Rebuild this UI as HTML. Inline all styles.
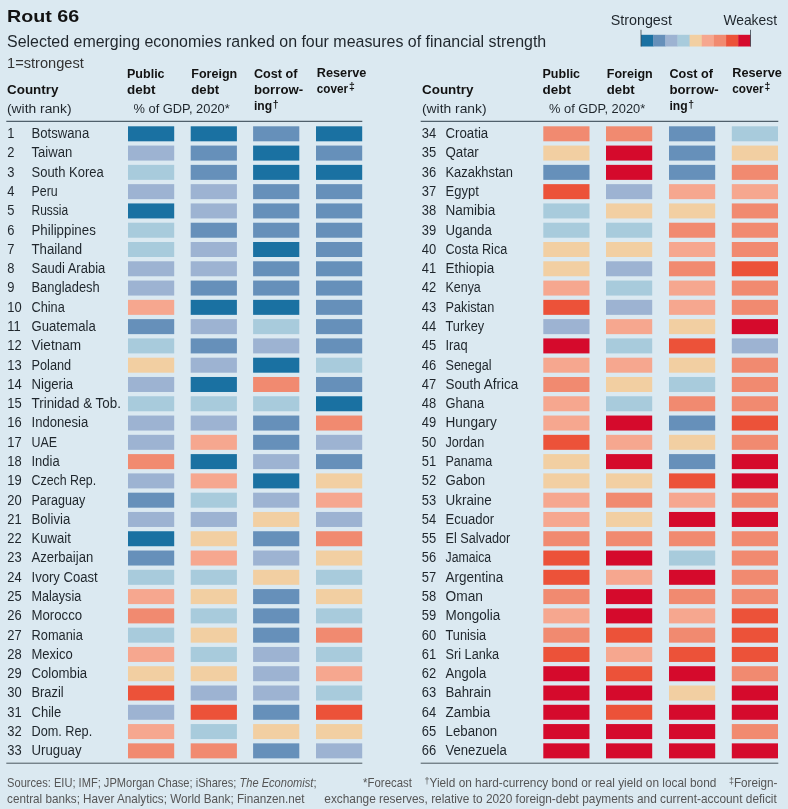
<!DOCTYPE html>
<html lang="en"><head><meta charset="utf-8"><title>Rout 66</title>
<style>
html,body{margin:0;padding:0;background:#dbe9f1;}
svg{display:block;font-family:"Liberation Sans",sans-serif;}
</style></head><body>
<svg width="788" height="809" viewBox="0 0 788 809">
<rect width="788" height="809" fill="#dbe9f1"/>
<text x="7.0" y="22.4" font-size="17" font-weight="700" fill="#121212" textLength="72.2" lengthAdjust="spacingAndGlyphs">Rout 66</text>
<text x="7.0" y="46.8" font-size="16.3" fill="#1f262c" textLength="539.2" lengthAdjust="spacingAndGlyphs">Selected emerging economies ranked on four measures of financial strength</text>
<text x="7.0" y="68.2" font-size="14.6" fill="#333" textLength="76.8" lengthAdjust="spacingAndGlyphs">1=strongest</text>
<text x="610.7" y="24.6" font-size="14.4" fill="#1f262c" textLength="61.3" lengthAdjust="spacingAndGlyphs">Strongest</text>
<text x="723.4" y="24.6" font-size="14.4" fill="#1f262c" textLength="53.6" lengthAdjust="spacingAndGlyphs">Weakest</text>
<rect x="641.00" y="34.8" width="12.46" height="11.7" fill="#1a71a2"/>
<rect x="653.16" y="34.8" width="12.46" height="11.7" fill="#6690ba"/>
<rect x="665.31" y="34.8" width="12.46" height="11.7" fill="#9db3d2"/>
<rect x="677.47" y="34.8" width="12.46" height="11.7" fill="#a8cbdc"/>
<rect x="689.62" y="34.8" width="12.46" height="11.7" fill="#f2cfa2"/>
<rect x="701.78" y="34.8" width="12.46" height="11.7" fill="#f6a78f"/>
<rect x="713.93" y="34.8" width="12.46" height="11.7" fill="#f18a70"/>
<rect x="726.09" y="34.8" width="12.46" height="11.7" fill="#ec5239"/>
<rect x="738.24" y="34.8" width="12.46" height="11.7" fill="#d50a2c"/>
<rect x="640.6" y="29.8" width="0.8" height="16.7" fill="#3a4650"/>
<rect x="750.0" y="29.8" width="0.8" height="16.7" fill="#3a4650"/>
<text x="7.0" y="94.3" font-size="13.4" font-weight="700" fill="#121212" textLength="51.5" lengthAdjust="spacingAndGlyphs">Country</text>
<text x="7.0" y="113.2" font-size="13.4" fill="#1f262c" textLength="64.6" lengthAdjust="spacingAndGlyphs">(with rank)</text>
<text x="127.0" y="77.8" font-size="13.4" font-weight="700" fill="#121212" textLength="37.6" lengthAdjust="spacingAndGlyphs">Public</text>
<text x="127.0" y="94.3" font-size="13.4" font-weight="700" fill="#121212" textLength="28.4" lengthAdjust="spacingAndGlyphs">debt</text>
<text x="191.3" y="77.8" font-size="13.4" font-weight="700" fill="#121212" textLength="45.9" lengthAdjust="spacingAndGlyphs">Foreign</text>
<text x="191.3" y="94.3" font-size="13.4" font-weight="700" fill="#121212" textLength="27.8" lengthAdjust="spacingAndGlyphs">debt</text>
<text x="254.0" y="77.8" font-size="13.4" font-weight="700" fill="#121212" textLength="43.5" lengthAdjust="spacingAndGlyphs">Cost of</text>
<text x="254.0" y="94.3" font-size="13.4" font-weight="700" fill="#121212" textLength="49.1" lengthAdjust="spacingAndGlyphs">borrow-</text>
<text x="254.0" y="110.3" font-size="13.4" font-weight="700" fill="#121212" textLength="18.2" lengthAdjust="spacingAndGlyphs">ing</text>
<text x="272.8" y="107.6" font-size="10.4" font-weight="700" fill="#121212">†</text>
<text x="316.8" y="76.8" font-size="13.4" font-weight="700" fill="#121212" textLength="49.5" lengthAdjust="spacingAndGlyphs">Reserve</text>
<text x="316.8" y="93.0" font-size="13.4" font-weight="700" fill="#121212" textLength="31.3" lengthAdjust="spacingAndGlyphs">cover</text>
<text x="349.0" y="89.8" font-size="10.4" font-weight="700" fill="#121212">‡</text>
<text x="133.5" y="113.4" font-size="13.4" fill="#1f262c" textLength="96.2" lengthAdjust="spacingAndGlyphs">% of GDP, 2020*</text>
<text x="422.0" y="94.3" font-size="13.4" font-weight="700" fill="#121212" textLength="51.5" lengthAdjust="spacingAndGlyphs">Country</text>
<text x="422.0" y="113.2" font-size="13.4" fill="#1f262c" textLength="64.6" lengthAdjust="spacingAndGlyphs">(with rank)</text>
<text x="542.5" y="77.8" font-size="13.4" font-weight="700" fill="#121212" textLength="37.6" lengthAdjust="spacingAndGlyphs">Public</text>
<text x="542.5" y="94.3" font-size="13.4" font-weight="700" fill="#121212" textLength="28.4" lengthAdjust="spacingAndGlyphs">debt</text>
<text x="606.8" y="77.8" font-size="13.4" font-weight="700" fill="#121212" textLength="45.9" lengthAdjust="spacingAndGlyphs">Foreign</text>
<text x="606.8" y="94.3" font-size="13.4" font-weight="700" fill="#121212" textLength="27.8" lengthAdjust="spacingAndGlyphs">debt</text>
<text x="669.5" y="77.8" font-size="13.4" font-weight="700" fill="#121212" textLength="43.5" lengthAdjust="spacingAndGlyphs">Cost of</text>
<text x="669.5" y="94.3" font-size="13.4" font-weight="700" fill="#121212" textLength="49.1" lengthAdjust="spacingAndGlyphs">borrow-</text>
<text x="669.5" y="110.3" font-size="13.4" font-weight="700" fill="#121212" textLength="18.2" lengthAdjust="spacingAndGlyphs">ing</text>
<text x="688.3" y="107.6" font-size="10.4" font-weight="700" fill="#121212">†</text>
<text x="732.3" y="76.8" font-size="13.4" font-weight="700" fill="#121212" textLength="49.5" lengthAdjust="spacingAndGlyphs">Reserve</text>
<text x="732.3" y="93.0" font-size="13.4" font-weight="700" fill="#121212" textLength="31.3" lengthAdjust="spacingAndGlyphs">cover</text>
<text x="764.5" y="89.8" font-size="10.4" font-weight="700" fill="#121212">‡</text>
<text x="549.0" y="113.4" font-size="13.4" fill="#1f262c" textLength="96.2" lengthAdjust="spacingAndGlyphs">% of GDP, 2020*</text>
<rect x="6.3" y="120.8" width="356" height="1" fill="#2f3f4a"/>
<rect x="420.7" y="120.8" width="357.6" height="1" fill="#2f3f4a"/>
<rect x="6.3" y="762.6" width="356" height="1.3" fill="#6b7880"/>
<rect x="420.7" y="762.6" width="357.6" height="1.3" fill="#6b7880"/>
<text x="7.3" y="138.1" font-size="14.0" fill="#1f262c" textLength="7.2" lengthAdjust="spacingAndGlyphs">1</text>
<text x="31.5" y="138.1" font-size="14.0" fill="#1f262c" textLength="57.7" lengthAdjust="spacingAndGlyphs">Botswana</text>
<rect x="128.0" y="126.30" width="46.2" height="15.0" fill="#1a71a2"/>
<rect x="190.7" y="126.30" width="46.2" height="15.0" fill="#1a71a2"/>
<rect x="253.1" y="126.30" width="46.2" height="15.0" fill="#6690ba"/>
<rect x="316.0" y="126.30" width="46.2" height="15.0" fill="#1a71a2"/>
<text x="7.3" y="157.4" font-size="14.0" fill="#1f262c" textLength="7.2" lengthAdjust="spacingAndGlyphs">2</text>
<text x="31.5" y="157.4" font-size="14.0" fill="#1f262c" textLength="40.7" lengthAdjust="spacingAndGlyphs">Taiwan</text>
<rect x="128.0" y="145.58" width="46.2" height="15.0" fill="#9db3d2"/>
<rect x="190.7" y="145.58" width="46.2" height="15.0" fill="#6690ba"/>
<rect x="253.1" y="145.58" width="46.2" height="15.0" fill="#1a71a2"/>
<rect x="316.0" y="145.58" width="46.2" height="15.0" fill="#6690ba"/>
<text x="7.3" y="176.7" font-size="14.0" fill="#1f262c" textLength="7.2" lengthAdjust="spacingAndGlyphs">3</text>
<text x="31.5" y="176.7" font-size="14.0" fill="#1f262c" textLength="72.2" lengthAdjust="spacingAndGlyphs">South Korea</text>
<rect x="128.0" y="164.87" width="46.2" height="15.0" fill="#a8cbdc"/>
<rect x="190.7" y="164.87" width="46.2" height="15.0" fill="#6690ba"/>
<rect x="253.1" y="164.87" width="46.2" height="15.0" fill="#1a71a2"/>
<rect x="316.0" y="164.87" width="46.2" height="15.0" fill="#1a71a2"/>
<text x="7.3" y="195.9" font-size="14.0" fill="#1f262c" textLength="7.2" lengthAdjust="spacingAndGlyphs">4</text>
<text x="31.5" y="195.9" font-size="14.0" fill="#1f262c" textLength="26.2" lengthAdjust="spacingAndGlyphs">Peru</text>
<rect x="128.0" y="184.15" width="46.2" height="15.0" fill="#9db3d2"/>
<rect x="190.7" y="184.15" width="46.2" height="15.0" fill="#9db3d2"/>
<rect x="253.1" y="184.15" width="46.2" height="15.0" fill="#6690ba"/>
<rect x="316.0" y="184.15" width="46.2" height="15.0" fill="#6690ba"/>
<text x="7.3" y="215.2" font-size="14.0" fill="#1f262c" textLength="7.2" lengthAdjust="spacingAndGlyphs">5</text>
<text x="31.5" y="215.2" font-size="14.0" fill="#1f262c" textLength="36.7" lengthAdjust="spacingAndGlyphs">Russia</text>
<rect x="128.0" y="203.43" width="46.2" height="15.0" fill="#1a71a2"/>
<rect x="190.7" y="203.43" width="46.2" height="15.0" fill="#9db3d2"/>
<rect x="253.1" y="203.43" width="46.2" height="15.0" fill="#6690ba"/>
<rect x="316.0" y="203.43" width="46.2" height="15.0" fill="#6690ba"/>
<text x="7.3" y="234.5" font-size="14.0" fill="#1f262c" textLength="7.2" lengthAdjust="spacingAndGlyphs">6</text>
<text x="31.5" y="234.5" font-size="14.0" fill="#1f262c" textLength="64.3" lengthAdjust="spacingAndGlyphs">Philippines</text>
<rect x="128.0" y="222.72" width="46.2" height="15.0" fill="#a8cbdc"/>
<rect x="190.7" y="222.72" width="46.2" height="15.0" fill="#6690ba"/>
<rect x="253.1" y="222.72" width="46.2" height="15.0" fill="#6690ba"/>
<rect x="316.0" y="222.72" width="46.2" height="15.0" fill="#6690ba"/>
<text x="7.3" y="253.8" font-size="14.0" fill="#1f262c" textLength="7.2" lengthAdjust="spacingAndGlyphs">7</text>
<text x="31.5" y="253.8" font-size="14.0" fill="#1f262c" textLength="50.7" lengthAdjust="spacingAndGlyphs">Thailand</text>
<rect x="128.0" y="242.00" width="46.2" height="15.0" fill="#a8cbdc"/>
<rect x="190.7" y="242.00" width="46.2" height="15.0" fill="#9db3d2"/>
<rect x="253.1" y="242.00" width="46.2" height="15.0" fill="#1a71a2"/>
<rect x="316.0" y="242.00" width="46.2" height="15.0" fill="#6690ba"/>
<text x="7.3" y="273.1" font-size="14.0" fill="#1f262c" textLength="7.2" lengthAdjust="spacingAndGlyphs">8</text>
<text x="31.5" y="273.1" font-size="14.0" fill="#1f262c" textLength="73.8" lengthAdjust="spacingAndGlyphs">Saudi Arabia</text>
<rect x="128.0" y="261.28" width="46.2" height="15.0" fill="#9db3d2"/>
<rect x="190.7" y="261.28" width="46.2" height="15.0" fill="#9db3d2"/>
<rect x="253.1" y="261.28" width="46.2" height="15.0" fill="#6690ba"/>
<rect x="316.0" y="261.28" width="46.2" height="15.0" fill="#6690ba"/>
<text x="7.3" y="292.4" font-size="14.0" fill="#1f262c" textLength="7.2" lengthAdjust="spacingAndGlyphs">9</text>
<text x="31.5" y="292.4" font-size="14.0" fill="#1f262c" textLength="68.2" lengthAdjust="spacingAndGlyphs">Bangladesh</text>
<rect x="128.0" y="280.56" width="46.2" height="15.0" fill="#9db3d2"/>
<rect x="190.7" y="280.56" width="46.2" height="15.0" fill="#6690ba"/>
<rect x="253.1" y="280.56" width="46.2" height="15.0" fill="#6690ba"/>
<rect x="316.0" y="280.56" width="46.2" height="15.0" fill="#6690ba"/>
<text x="7.3" y="311.6" font-size="14.0" fill="#1f262c" textLength="14.4" lengthAdjust="spacingAndGlyphs">10</text>
<text x="31.5" y="311.6" font-size="14.0" fill="#1f262c" textLength="33.3" lengthAdjust="spacingAndGlyphs">China</text>
<rect x="128.0" y="299.85" width="46.2" height="15.0" fill="#f6a78f"/>
<rect x="190.7" y="299.85" width="46.2" height="15.0" fill="#1a71a2"/>
<rect x="253.1" y="299.85" width="46.2" height="15.0" fill="#1a71a2"/>
<rect x="316.0" y="299.85" width="46.2" height="15.0" fill="#6690ba"/>
<text x="7.3" y="330.9" font-size="14.0" fill="#1f262c" textLength="13.4" lengthAdjust="spacingAndGlyphs">11</text>
<text x="31.5" y="330.9" font-size="14.0" fill="#1f262c" textLength="64.3" lengthAdjust="spacingAndGlyphs">Guatemala</text>
<rect x="128.0" y="319.13" width="46.2" height="15.0" fill="#6690ba"/>
<rect x="190.7" y="319.13" width="46.2" height="15.0" fill="#9db3d2"/>
<rect x="253.1" y="319.13" width="46.2" height="15.0" fill="#a8cbdc"/>
<rect x="316.0" y="319.13" width="46.2" height="15.0" fill="#6690ba"/>
<text x="7.3" y="350.2" font-size="14.0" fill="#1f262c" textLength="14.4" lengthAdjust="spacingAndGlyphs">12</text>
<text x="31.5" y="350.2" font-size="14.0" fill="#1f262c" textLength="49.7" lengthAdjust="spacingAndGlyphs">Vietnam</text>
<rect x="128.0" y="338.41" width="46.2" height="15.0" fill="#a8cbdc"/>
<rect x="190.7" y="338.41" width="46.2" height="15.0" fill="#6690ba"/>
<rect x="253.1" y="338.41" width="46.2" height="15.0" fill="#9db3d2"/>
<rect x="316.0" y="338.41" width="46.2" height="15.0" fill="#6690ba"/>
<text x="7.3" y="369.5" font-size="14.0" fill="#1f262c" textLength="14.4" lengthAdjust="spacingAndGlyphs">13</text>
<text x="31.5" y="369.5" font-size="14.0" fill="#1f262c" textLength="39.7" lengthAdjust="spacingAndGlyphs">Poland</text>
<rect x="128.0" y="357.70" width="46.2" height="15.0" fill="#f2cfa2"/>
<rect x="190.7" y="357.70" width="46.2" height="15.0" fill="#9db3d2"/>
<rect x="253.1" y="357.70" width="46.2" height="15.0" fill="#1a71a2"/>
<rect x="316.0" y="357.70" width="46.2" height="15.0" fill="#a8cbdc"/>
<text x="7.3" y="388.8" font-size="14.0" fill="#1f262c" textLength="14.4" lengthAdjust="spacingAndGlyphs">14</text>
<text x="31.5" y="388.8" font-size="14.0" fill="#1f262c" textLength="41.7" lengthAdjust="spacingAndGlyphs">Nigeria</text>
<rect x="128.0" y="376.98" width="46.2" height="15.0" fill="#9db3d2"/>
<rect x="190.7" y="376.98" width="46.2" height="15.0" fill="#1a71a2"/>
<rect x="253.1" y="376.98" width="46.2" height="15.0" fill="#f18a70"/>
<rect x="316.0" y="376.98" width="46.2" height="15.0" fill="#6690ba"/>
<text x="7.3" y="408.1" font-size="14.0" fill="#1f262c" textLength="14.4" lengthAdjust="spacingAndGlyphs">15</text>
<text x="31.5" y="408.1" font-size="14.0" fill="#1f262c" textLength="89.4" lengthAdjust="spacingAndGlyphs">Trinidad &amp; Tob.</text>
<rect x="128.0" y="396.26" width="46.2" height="15.0" fill="#a8cbdc"/>
<rect x="190.7" y="396.26" width="46.2" height="15.0" fill="#a8cbdc"/>
<rect x="253.1" y="396.26" width="46.2" height="15.0" fill="#a8cbdc"/>
<rect x="316.0" y="396.26" width="46.2" height="15.0" fill="#1a71a2"/>
<text x="7.3" y="427.3" font-size="14.0" fill="#1f262c" textLength="14.4" lengthAdjust="spacingAndGlyphs">16</text>
<text x="31.5" y="427.3" font-size="14.0" fill="#1f262c" textLength="56.7" lengthAdjust="spacingAndGlyphs">Indonesia</text>
<rect x="128.0" y="415.55" width="46.2" height="15.0" fill="#9db3d2"/>
<rect x="190.7" y="415.55" width="46.2" height="15.0" fill="#9db3d2"/>
<rect x="253.1" y="415.55" width="46.2" height="15.0" fill="#6690ba"/>
<rect x="316.0" y="415.55" width="46.2" height="15.0" fill="#f18a70"/>
<text x="7.3" y="446.6" font-size="14.0" fill="#1f262c" textLength="14.4" lengthAdjust="spacingAndGlyphs">17</text>
<text x="31.5" y="446.6" font-size="14.0" fill="#1f262c" textLength="25.6" lengthAdjust="spacingAndGlyphs">UAE</text>
<rect x="128.0" y="434.83" width="46.2" height="15.0" fill="#9db3d2"/>
<rect x="190.7" y="434.83" width="46.2" height="15.0" fill="#f6a78f"/>
<rect x="253.1" y="434.83" width="46.2" height="15.0" fill="#6690ba"/>
<rect x="316.0" y="434.83" width="46.2" height="15.0" fill="#9db3d2"/>
<text x="7.3" y="465.9" font-size="14.0" fill="#1f262c" textLength="14.4" lengthAdjust="spacingAndGlyphs">18</text>
<text x="31.5" y="465.9" font-size="14.0" fill="#1f262c" textLength="28.1" lengthAdjust="spacingAndGlyphs">India</text>
<rect x="128.0" y="454.11" width="46.2" height="15.0" fill="#f18a70"/>
<rect x="190.7" y="454.11" width="46.2" height="15.0" fill="#1a71a2"/>
<rect x="253.1" y="454.11" width="46.2" height="15.0" fill="#9db3d2"/>
<rect x="316.0" y="454.11" width="46.2" height="15.0" fill="#6690ba"/>
<text x="7.3" y="485.2" font-size="14.0" fill="#1f262c" textLength="14.4" lengthAdjust="spacingAndGlyphs">19</text>
<text x="31.5" y="485.2" font-size="14.0" fill="#1f262c" textLength="64.7" lengthAdjust="spacingAndGlyphs">Czech Rep.</text>
<rect x="128.0" y="473.39" width="46.2" height="15.0" fill="#9db3d2"/>
<rect x="190.7" y="473.39" width="46.2" height="15.0" fill="#f6a78f"/>
<rect x="253.1" y="473.39" width="46.2" height="15.0" fill="#1a71a2"/>
<rect x="316.0" y="473.39" width="46.2" height="15.0" fill="#f2cfa2"/>
<text x="7.3" y="504.5" font-size="14.0" fill="#1f262c" textLength="14.4" lengthAdjust="spacingAndGlyphs">20</text>
<text x="31.5" y="504.5" font-size="14.0" fill="#1f262c" textLength="53.7" lengthAdjust="spacingAndGlyphs">Paraguay</text>
<rect x="128.0" y="492.68" width="46.2" height="15.0" fill="#6690ba"/>
<rect x="190.7" y="492.68" width="46.2" height="15.0" fill="#a8cbdc"/>
<rect x="253.1" y="492.68" width="46.2" height="15.0" fill="#9db3d2"/>
<rect x="316.0" y="492.68" width="46.2" height="15.0" fill="#f6a78f"/>
<text x="7.3" y="523.8" font-size="14.0" fill="#1f262c" textLength="14.4" lengthAdjust="spacingAndGlyphs">21</text>
<text x="31.5" y="523.8" font-size="14.0" fill="#1f262c" textLength="38.7" lengthAdjust="spacingAndGlyphs">Bolivia</text>
<rect x="128.0" y="511.96" width="46.2" height="15.0" fill="#9db3d2"/>
<rect x="190.7" y="511.96" width="46.2" height="15.0" fill="#9db3d2"/>
<rect x="253.1" y="511.96" width="46.2" height="15.0" fill="#f2cfa2"/>
<rect x="316.0" y="511.96" width="46.2" height="15.0" fill="#9db3d2"/>
<text x="7.3" y="543.0" font-size="14.0" fill="#1f262c" textLength="14.4" lengthAdjust="spacingAndGlyphs">22</text>
<text x="31.5" y="543.0" font-size="14.0" fill="#1f262c" textLength="39.3" lengthAdjust="spacingAndGlyphs">Kuwait</text>
<rect x="128.0" y="531.24" width="46.2" height="15.0" fill="#1a71a2"/>
<rect x="190.7" y="531.24" width="46.2" height="15.0" fill="#f2cfa2"/>
<rect x="253.1" y="531.24" width="46.2" height="15.0" fill="#6690ba"/>
<rect x="316.0" y="531.24" width="46.2" height="15.0" fill="#f18a70"/>
<text x="7.3" y="562.3" font-size="14.0" fill="#1f262c" textLength="14.4" lengthAdjust="spacingAndGlyphs">23</text>
<text x="31.5" y="562.3" font-size="14.0" fill="#1f262c" textLength="61.7" lengthAdjust="spacingAndGlyphs">Azerbaijan</text>
<rect x="128.0" y="550.53" width="46.2" height="15.0" fill="#6690ba"/>
<rect x="190.7" y="550.53" width="46.2" height="15.0" fill="#f6a78f"/>
<rect x="253.1" y="550.53" width="46.2" height="15.0" fill="#9db3d2"/>
<rect x="316.0" y="550.53" width="46.2" height="15.0" fill="#f2cfa2"/>
<text x="7.3" y="581.6" font-size="14.0" fill="#1f262c" textLength="14.4" lengthAdjust="spacingAndGlyphs">24</text>
<text x="31.5" y="581.6" font-size="14.0" fill="#1f262c" textLength="66.2" lengthAdjust="spacingAndGlyphs">Ivory Coast</text>
<rect x="128.0" y="569.81" width="46.2" height="15.0" fill="#a8cbdc"/>
<rect x="190.7" y="569.81" width="46.2" height="15.0" fill="#a8cbdc"/>
<rect x="253.1" y="569.81" width="46.2" height="15.0" fill="#f2cfa2"/>
<rect x="316.0" y="569.81" width="46.2" height="15.0" fill="#a8cbdc"/>
<text x="7.3" y="600.9" font-size="14.0" fill="#1f262c" textLength="14.4" lengthAdjust="spacingAndGlyphs">25</text>
<text x="31.5" y="600.9" font-size="14.0" fill="#1f262c" textLength="49.7" lengthAdjust="spacingAndGlyphs">Malaysia</text>
<rect x="128.0" y="589.09" width="46.2" height="15.0" fill="#f6a78f"/>
<rect x="190.7" y="589.09" width="46.2" height="15.0" fill="#f2cfa2"/>
<rect x="253.1" y="589.09" width="46.2" height="15.0" fill="#6690ba"/>
<rect x="316.0" y="589.09" width="46.2" height="15.0" fill="#f2cfa2"/>
<text x="7.3" y="620.2" font-size="14.0" fill="#1f262c" textLength="14.4" lengthAdjust="spacingAndGlyphs">26</text>
<text x="31.5" y="620.2" font-size="14.0" fill="#1f262c" textLength="50.7" lengthAdjust="spacingAndGlyphs">Morocco</text>
<rect x="128.0" y="608.38" width="46.2" height="15.0" fill="#f18a70"/>
<rect x="190.7" y="608.38" width="46.2" height="15.0" fill="#a8cbdc"/>
<rect x="253.1" y="608.38" width="46.2" height="15.0" fill="#6690ba"/>
<rect x="316.0" y="608.38" width="46.2" height="15.0" fill="#a8cbdc"/>
<text x="7.3" y="639.5" font-size="14.0" fill="#1f262c" textLength="14.4" lengthAdjust="spacingAndGlyphs">27</text>
<text x="31.5" y="639.5" font-size="14.0" fill="#1f262c" textLength="51.3" lengthAdjust="spacingAndGlyphs">Romania</text>
<rect x="128.0" y="627.66" width="46.2" height="15.0" fill="#a8cbdc"/>
<rect x="190.7" y="627.66" width="46.2" height="15.0" fill="#f2cfa2"/>
<rect x="253.1" y="627.66" width="46.2" height="15.0" fill="#6690ba"/>
<rect x="316.0" y="627.66" width="46.2" height="15.0" fill="#f18a70"/>
<text x="7.3" y="658.7" font-size="14.0" fill="#1f262c" textLength="14.4" lengthAdjust="spacingAndGlyphs">28</text>
<text x="31.5" y="658.7" font-size="14.0" fill="#1f262c" textLength="41.3" lengthAdjust="spacingAndGlyphs">Mexico</text>
<rect x="128.0" y="646.94" width="46.2" height="15.0" fill="#f6a78f"/>
<rect x="190.7" y="646.94" width="46.2" height="15.0" fill="#a8cbdc"/>
<rect x="253.1" y="646.94" width="46.2" height="15.0" fill="#9db3d2"/>
<rect x="316.0" y="646.94" width="46.2" height="15.0" fill="#a8cbdc"/>
<text x="7.3" y="678.0" font-size="14.0" fill="#1f262c" textLength="14.4" lengthAdjust="spacingAndGlyphs">29</text>
<text x="31.5" y="678.0" font-size="14.0" fill="#1f262c" textLength="55.7" lengthAdjust="spacingAndGlyphs">Colombia</text>
<rect x="128.0" y="666.22" width="46.2" height="15.0" fill="#f2cfa2"/>
<rect x="190.7" y="666.22" width="46.2" height="15.0" fill="#f2cfa2"/>
<rect x="253.1" y="666.22" width="46.2" height="15.0" fill="#9db3d2"/>
<rect x="316.0" y="666.22" width="46.2" height="15.0" fill="#f6a78f"/>
<text x="7.3" y="697.3" font-size="14.0" fill="#1f262c" textLength="14.4" lengthAdjust="spacingAndGlyphs">30</text>
<text x="31.5" y="697.3" font-size="14.0" fill="#1f262c" textLength="32.1" lengthAdjust="spacingAndGlyphs">Brazil</text>
<rect x="128.0" y="685.51" width="46.2" height="15.0" fill="#ec5239"/>
<rect x="190.7" y="685.51" width="46.2" height="15.0" fill="#9db3d2"/>
<rect x="253.1" y="685.51" width="46.2" height="15.0" fill="#9db3d2"/>
<rect x="316.0" y="685.51" width="46.2" height="15.0" fill="#a8cbdc"/>
<text x="7.3" y="716.6" font-size="14.0" fill="#1f262c" textLength="14.4" lengthAdjust="spacingAndGlyphs">31</text>
<text x="31.5" y="716.6" font-size="14.0" fill="#1f262c" textLength="29.7" lengthAdjust="spacingAndGlyphs">Chile</text>
<rect x="128.0" y="704.79" width="46.2" height="15.0" fill="#9db3d2"/>
<rect x="190.7" y="704.79" width="46.2" height="15.0" fill="#ec5239"/>
<rect x="253.1" y="704.79" width="46.2" height="15.0" fill="#6690ba"/>
<rect x="316.0" y="704.79" width="46.2" height="15.0" fill="#ec5239"/>
<text x="7.3" y="735.9" font-size="14.0" fill="#1f262c" textLength="14.4" lengthAdjust="spacingAndGlyphs">32</text>
<text x="31.5" y="735.9" font-size="14.0" fill="#1f262c" textLength="60.7" lengthAdjust="spacingAndGlyphs">Dom. Rep.</text>
<rect x="128.0" y="724.07" width="46.2" height="15.0" fill="#f6a78f"/>
<rect x="190.7" y="724.07" width="46.2" height="15.0" fill="#a8cbdc"/>
<rect x="253.1" y="724.07" width="46.2" height="15.0" fill="#f2cfa2"/>
<rect x="316.0" y="724.07" width="46.2" height="15.0" fill="#f2cfa2"/>
<text x="7.3" y="755.2" font-size="14.0" fill="#1f262c" textLength="14.4" lengthAdjust="spacingAndGlyphs">33</text>
<text x="31.5" y="755.2" font-size="14.0" fill="#1f262c" textLength="50.0" lengthAdjust="spacingAndGlyphs">Uruguay</text>
<rect x="128.0" y="743.36" width="46.2" height="15.0" fill="#f18a70"/>
<rect x="190.7" y="743.36" width="46.2" height="15.0" fill="#f18a70"/>
<rect x="253.1" y="743.36" width="46.2" height="15.0" fill="#6690ba"/>
<rect x="316.0" y="743.36" width="46.2" height="15.0" fill="#9db3d2"/>
<text x="421.7" y="138.1" font-size="14.0" fill="#1f262c" textLength="14.4" lengthAdjust="spacingAndGlyphs">34</text>
<text x="445.5" y="138.1" font-size="14.0" fill="#1f262c" textLength="42.7" lengthAdjust="spacingAndGlyphs">Croatia</text>
<rect x="543.3" y="126.30" width="46.2" height="15.0" fill="#f18a70"/>
<rect x="606.0" y="126.30" width="46.2" height="15.0" fill="#f18a70"/>
<rect x="669.0" y="126.30" width="46.2" height="15.0" fill="#6690ba"/>
<rect x="731.8" y="126.30" width="46.2" height="15.0" fill="#a8cbdc"/>
<text x="421.7" y="157.4" font-size="14.0" fill="#1f262c" textLength="14.4" lengthAdjust="spacingAndGlyphs">35</text>
<text x="445.5" y="157.4" font-size="14.0" fill="#1f262c" textLength="33.3" lengthAdjust="spacingAndGlyphs">Qatar</text>
<rect x="543.3" y="145.58" width="46.2" height="15.0" fill="#f2cfa2"/>
<rect x="606.0" y="145.58" width="46.2" height="15.0" fill="#d50a2c"/>
<rect x="669.0" y="145.58" width="46.2" height="15.0" fill="#6690ba"/>
<rect x="731.8" y="145.58" width="46.2" height="15.0" fill="#f2cfa2"/>
<text x="421.7" y="176.7" font-size="14.0" fill="#1f262c" textLength="14.4" lengthAdjust="spacingAndGlyphs">36</text>
<text x="445.5" y="176.7" font-size="14.0" fill="#1f262c" textLength="67.4" lengthAdjust="spacingAndGlyphs">Kazakhstan</text>
<rect x="543.3" y="164.87" width="46.2" height="15.0" fill="#6690ba"/>
<rect x="606.0" y="164.87" width="46.2" height="15.0" fill="#d50a2c"/>
<rect x="669.0" y="164.87" width="46.2" height="15.0" fill="#6690ba"/>
<rect x="731.8" y="164.87" width="46.2" height="15.0" fill="#f18a70"/>
<text x="421.7" y="195.9" font-size="14.0" fill="#1f262c" textLength="14.4" lengthAdjust="spacingAndGlyphs">37</text>
<text x="445.5" y="195.9" font-size="14.0" fill="#1f262c" textLength="33.3" lengthAdjust="spacingAndGlyphs">Egypt</text>
<rect x="543.3" y="184.15" width="46.2" height="15.0" fill="#ec5239"/>
<rect x="606.0" y="184.15" width="46.2" height="15.0" fill="#9db3d2"/>
<rect x="669.0" y="184.15" width="46.2" height="15.0" fill="#f6a78f"/>
<rect x="731.8" y="184.15" width="46.2" height="15.0" fill="#f6a78f"/>
<text x="421.7" y="215.2" font-size="14.0" fill="#1f262c" textLength="14.4" lengthAdjust="spacingAndGlyphs">38</text>
<text x="445.5" y="215.2" font-size="14.0" fill="#1f262c" textLength="49.7" lengthAdjust="spacingAndGlyphs">Namibia</text>
<rect x="543.3" y="203.43" width="46.2" height="15.0" fill="#a8cbdc"/>
<rect x="606.0" y="203.43" width="46.2" height="15.0" fill="#f2cfa2"/>
<rect x="669.0" y="203.43" width="46.2" height="15.0" fill="#f2cfa2"/>
<rect x="731.8" y="203.43" width="46.2" height="15.0" fill="#f18a70"/>
<text x="421.7" y="234.5" font-size="14.0" fill="#1f262c" textLength="14.4" lengthAdjust="spacingAndGlyphs">39</text>
<text x="445.5" y="234.5" font-size="14.0" fill="#1f262c" textLength="46.3" lengthAdjust="spacingAndGlyphs">Uganda</text>
<rect x="543.3" y="222.72" width="46.2" height="15.0" fill="#a8cbdc"/>
<rect x="606.0" y="222.72" width="46.2" height="15.0" fill="#a8cbdc"/>
<rect x="669.0" y="222.72" width="46.2" height="15.0" fill="#f18a70"/>
<rect x="731.8" y="222.72" width="46.2" height="15.0" fill="#f18a70"/>
<text x="421.7" y="253.8" font-size="14.0" fill="#1f262c" textLength="14.4" lengthAdjust="spacingAndGlyphs">40</text>
<text x="445.5" y="253.8" font-size="14.0" fill="#1f262c" textLength="61.7" lengthAdjust="spacingAndGlyphs">Costa Rica</text>
<rect x="543.3" y="242.00" width="46.2" height="15.0" fill="#f2cfa2"/>
<rect x="606.0" y="242.00" width="46.2" height="15.0" fill="#f2cfa2"/>
<rect x="669.0" y="242.00" width="46.2" height="15.0" fill="#f6a78f"/>
<rect x="731.8" y="242.00" width="46.2" height="15.0" fill="#f18a70"/>
<text x="421.7" y="273.1" font-size="14.0" fill="#1f262c" textLength="14.4" lengthAdjust="spacingAndGlyphs">41</text>
<text x="445.5" y="273.1" font-size="14.0" fill="#1f262c" textLength="48.7" lengthAdjust="spacingAndGlyphs">Ethiopia</text>
<rect x="543.3" y="261.28" width="46.2" height="15.0" fill="#f2cfa2"/>
<rect x="606.0" y="261.28" width="46.2" height="15.0" fill="#9db3d2"/>
<rect x="669.0" y="261.28" width="46.2" height="15.0" fill="#f18a70"/>
<rect x="731.8" y="261.28" width="46.2" height="15.0" fill="#ec5239"/>
<text x="421.7" y="292.4" font-size="14.0" fill="#1f262c" textLength="14.4" lengthAdjust="spacingAndGlyphs">42</text>
<text x="445.5" y="292.4" font-size="14.0" fill="#1f262c" textLength="35.3" lengthAdjust="spacingAndGlyphs">Kenya</text>
<rect x="543.3" y="280.56" width="46.2" height="15.0" fill="#f6a78f"/>
<rect x="606.0" y="280.56" width="46.2" height="15.0" fill="#a8cbdc"/>
<rect x="669.0" y="280.56" width="46.2" height="15.0" fill="#f6a78f"/>
<rect x="731.8" y="280.56" width="46.2" height="15.0" fill="#f18a70"/>
<text x="421.7" y="311.6" font-size="14.0" fill="#1f262c" textLength="14.4" lengthAdjust="spacingAndGlyphs">43</text>
<text x="445.5" y="311.6" font-size="14.0" fill="#1f262c" textLength="48.7" lengthAdjust="spacingAndGlyphs">Pakistan</text>
<rect x="543.3" y="299.85" width="46.2" height="15.0" fill="#ec5239"/>
<rect x="606.0" y="299.85" width="46.2" height="15.0" fill="#9db3d2"/>
<rect x="669.0" y="299.85" width="46.2" height="15.0" fill="#f6a78f"/>
<rect x="731.8" y="299.85" width="46.2" height="15.0" fill="#f18a70"/>
<text x="421.7" y="330.9" font-size="14.0" fill="#1f262c" textLength="14.4" lengthAdjust="spacingAndGlyphs">44</text>
<text x="445.5" y="330.9" font-size="14.0" fill="#1f262c" textLength="38.7" lengthAdjust="spacingAndGlyphs">Turkey</text>
<rect x="543.3" y="319.13" width="46.2" height="15.0" fill="#9db3d2"/>
<rect x="606.0" y="319.13" width="46.2" height="15.0" fill="#f6a78f"/>
<rect x="669.0" y="319.13" width="46.2" height="15.0" fill="#f2cfa2"/>
<rect x="731.8" y="319.13" width="46.2" height="15.0" fill="#d50a2c"/>
<text x="421.7" y="350.2" font-size="14.0" fill="#1f262c" textLength="14.4" lengthAdjust="spacingAndGlyphs">45</text>
<text x="445.5" y="350.2" font-size="14.0" fill="#1f262c" textLength="22.2" lengthAdjust="spacingAndGlyphs">Iraq</text>
<rect x="543.3" y="338.41" width="46.2" height="15.0" fill="#d50a2c"/>
<rect x="606.0" y="338.41" width="46.2" height="15.0" fill="#a8cbdc"/>
<rect x="669.0" y="338.41" width="46.2" height="15.0" fill="#ec5239"/>
<rect x="731.8" y="338.41" width="46.2" height="15.0" fill="#9db3d2"/>
<text x="421.7" y="369.5" font-size="14.0" fill="#1f262c" textLength="14.4" lengthAdjust="spacingAndGlyphs">46</text>
<text x="445.5" y="369.5" font-size="14.0" fill="#1f262c" textLength="46.1" lengthAdjust="spacingAndGlyphs">Senegal</text>
<rect x="543.3" y="357.70" width="46.2" height="15.0" fill="#f6a78f"/>
<rect x="606.0" y="357.70" width="46.2" height="15.0" fill="#f6a78f"/>
<rect x="669.0" y="357.70" width="46.2" height="15.0" fill="#f2cfa2"/>
<rect x="731.8" y="357.70" width="46.2" height="15.0" fill="#f18a70"/>
<text x="421.7" y="388.8" font-size="14.0" fill="#1f262c" textLength="14.4" lengthAdjust="spacingAndGlyphs">47</text>
<text x="445.5" y="388.8" font-size="14.0" fill="#1f262c" textLength="72.8" lengthAdjust="spacingAndGlyphs">South Africa</text>
<rect x="543.3" y="376.98" width="46.2" height="15.0" fill="#f18a70"/>
<rect x="606.0" y="376.98" width="46.2" height="15.0" fill="#f2cfa2"/>
<rect x="669.0" y="376.98" width="46.2" height="15.0" fill="#a8cbdc"/>
<rect x="731.8" y="376.98" width="46.2" height="15.0" fill="#f18a70"/>
<text x="421.7" y="408.1" font-size="14.0" fill="#1f262c" textLength="14.4" lengthAdjust="spacingAndGlyphs">48</text>
<text x="445.5" y="408.1" font-size="14.0" fill="#1f262c" textLength="38.7" lengthAdjust="spacingAndGlyphs">Ghana</text>
<rect x="543.3" y="396.26" width="46.2" height="15.0" fill="#f6a78f"/>
<rect x="606.0" y="396.26" width="46.2" height="15.0" fill="#a8cbdc"/>
<rect x="669.0" y="396.26" width="46.2" height="15.0" fill="#f18a70"/>
<rect x="731.8" y="396.26" width="46.2" height="15.0" fill="#f18a70"/>
<text x="421.7" y="427.3" font-size="14.0" fill="#1f262c" textLength="14.4" lengthAdjust="spacingAndGlyphs">49</text>
<text x="445.5" y="427.3" font-size="14.0" fill="#1f262c" textLength="51.3" lengthAdjust="spacingAndGlyphs">Hungary</text>
<rect x="543.3" y="415.55" width="46.2" height="15.0" fill="#f6a78f"/>
<rect x="606.0" y="415.55" width="46.2" height="15.0" fill="#d50a2c"/>
<rect x="669.0" y="415.55" width="46.2" height="15.0" fill="#6690ba"/>
<rect x="731.8" y="415.55" width="46.2" height="15.0" fill="#ec5239"/>
<text x="421.7" y="446.6" font-size="14.0" fill="#1f262c" textLength="14.4" lengthAdjust="spacingAndGlyphs">50</text>
<text x="445.5" y="446.6" font-size="14.0" fill="#1f262c" textLength="38.7" lengthAdjust="spacingAndGlyphs">Jordan</text>
<rect x="543.3" y="434.83" width="46.2" height="15.0" fill="#ec5239"/>
<rect x="606.0" y="434.83" width="46.2" height="15.0" fill="#f6a78f"/>
<rect x="669.0" y="434.83" width="46.2" height="15.0" fill="#f2cfa2"/>
<rect x="731.8" y="434.83" width="46.2" height="15.0" fill="#f18a70"/>
<text x="421.7" y="465.9" font-size="14.0" fill="#1f262c" textLength="14.4" lengthAdjust="spacingAndGlyphs">51</text>
<text x="445.5" y="465.9" font-size="14.0" fill="#1f262c" textLength="46.7" lengthAdjust="spacingAndGlyphs">Panama</text>
<rect x="543.3" y="454.11" width="46.2" height="15.0" fill="#f2cfa2"/>
<rect x="606.0" y="454.11" width="46.2" height="15.0" fill="#d50a2c"/>
<rect x="669.0" y="454.11" width="46.2" height="15.0" fill="#6690ba"/>
<rect x="731.8" y="454.11" width="46.2" height="15.0" fill="#d50a2c"/>
<text x="421.7" y="485.2" font-size="14.0" fill="#1f262c" textLength="14.4" lengthAdjust="spacingAndGlyphs">52</text>
<text x="445.5" y="485.2" font-size="14.0" fill="#1f262c" textLength="39.7" lengthAdjust="spacingAndGlyphs">Gabon</text>
<rect x="543.3" y="473.39" width="46.2" height="15.0" fill="#f2cfa2"/>
<rect x="606.0" y="473.39" width="46.2" height="15.0" fill="#f2cfa2"/>
<rect x="669.0" y="473.39" width="46.2" height="15.0" fill="#ec5239"/>
<rect x="731.8" y="473.39" width="46.2" height="15.0" fill="#d50a2c"/>
<text x="421.7" y="504.5" font-size="14.0" fill="#1f262c" textLength="14.4" lengthAdjust="spacingAndGlyphs">53</text>
<text x="445.5" y="504.5" font-size="14.0" fill="#1f262c" textLength="46.3" lengthAdjust="spacingAndGlyphs">Ukraine</text>
<rect x="543.3" y="492.68" width="46.2" height="15.0" fill="#f6a78f"/>
<rect x="606.0" y="492.68" width="46.2" height="15.0" fill="#f18a70"/>
<rect x="669.0" y="492.68" width="46.2" height="15.0" fill="#f6a78f"/>
<rect x="731.8" y="492.68" width="46.2" height="15.0" fill="#f18a70"/>
<text x="421.7" y="523.8" font-size="14.0" fill="#1f262c" textLength="14.4" lengthAdjust="spacingAndGlyphs">54</text>
<text x="445.5" y="523.8" font-size="14.0" fill="#1f262c" textLength="48.7" lengthAdjust="spacingAndGlyphs">Ecuador</text>
<rect x="543.3" y="511.96" width="46.2" height="15.0" fill="#f6a78f"/>
<rect x="606.0" y="511.96" width="46.2" height="15.0" fill="#f2cfa2"/>
<rect x="669.0" y="511.96" width="46.2" height="15.0" fill="#d50a2c"/>
<rect x="731.8" y="511.96" width="46.2" height="15.0" fill="#d50a2c"/>
<text x="421.7" y="543.0" font-size="14.0" fill="#1f262c" textLength="14.4" lengthAdjust="spacingAndGlyphs">55</text>
<text x="445.5" y="543.0" font-size="14.0" fill="#1f262c" textLength="64.8" lengthAdjust="spacingAndGlyphs">El Salvador</text>
<rect x="543.3" y="531.24" width="46.2" height="15.0" fill="#f18a70"/>
<rect x="606.0" y="531.24" width="46.2" height="15.0" fill="#f18a70"/>
<rect x="669.0" y="531.24" width="46.2" height="15.0" fill="#f18a70"/>
<rect x="731.8" y="531.24" width="46.2" height="15.0" fill="#f18a70"/>
<text x="421.7" y="562.3" font-size="14.0" fill="#1f262c" textLength="14.4" lengthAdjust="spacingAndGlyphs">56</text>
<text x="445.5" y="562.3" font-size="14.0" fill="#1f262c" textLength="45.7" lengthAdjust="spacingAndGlyphs">Jamaica</text>
<rect x="543.3" y="550.53" width="46.2" height="15.0" fill="#ec5239"/>
<rect x="606.0" y="550.53" width="46.2" height="15.0" fill="#d50a2c"/>
<rect x="669.0" y="550.53" width="46.2" height="15.0" fill="#a8cbdc"/>
<rect x="731.8" y="550.53" width="46.2" height="15.0" fill="#f18a70"/>
<text x="421.7" y="581.6" font-size="14.0" fill="#1f262c" textLength="14.4" lengthAdjust="spacingAndGlyphs">57</text>
<text x="445.5" y="581.6" font-size="14.0" fill="#1f262c" textLength="57.7" lengthAdjust="spacingAndGlyphs">Argentina</text>
<rect x="543.3" y="569.81" width="46.2" height="15.0" fill="#ec5239"/>
<rect x="606.0" y="569.81" width="46.2" height="15.0" fill="#f6a78f"/>
<rect x="669.0" y="569.81" width="46.2" height="15.0" fill="#d50a2c"/>
<rect x="731.8" y="569.81" width="46.2" height="15.0" fill="#f18a70"/>
<text x="421.7" y="600.9" font-size="14.0" fill="#1f262c" textLength="14.4" lengthAdjust="spacingAndGlyphs">58</text>
<text x="445.5" y="600.9" font-size="14.0" fill="#1f262c" textLength="37.5" lengthAdjust="spacingAndGlyphs">Oman</text>
<rect x="543.3" y="589.09" width="46.2" height="15.0" fill="#f18a70"/>
<rect x="606.0" y="589.09" width="46.2" height="15.0" fill="#d50a2c"/>
<rect x="669.0" y="589.09" width="46.2" height="15.0" fill="#f18a70"/>
<rect x="731.8" y="589.09" width="46.2" height="15.0" fill="#f18a70"/>
<text x="421.7" y="620.2" font-size="14.0" fill="#1f262c" textLength="14.4" lengthAdjust="spacingAndGlyphs">59</text>
<text x="445.5" y="620.2" font-size="14.0" fill="#1f262c" textLength="54.7" lengthAdjust="spacingAndGlyphs">Mongolia</text>
<rect x="543.3" y="608.38" width="46.2" height="15.0" fill="#f6a78f"/>
<rect x="606.0" y="608.38" width="46.2" height="15.0" fill="#d50a2c"/>
<rect x="669.0" y="608.38" width="46.2" height="15.0" fill="#f6a78f"/>
<rect x="731.8" y="608.38" width="46.2" height="15.0" fill="#ec5239"/>
<text x="421.7" y="639.5" font-size="14.0" fill="#1f262c" textLength="14.4" lengthAdjust="spacingAndGlyphs">60</text>
<text x="445.5" y="639.5" font-size="14.0" fill="#1f262c" textLength="40.7" lengthAdjust="spacingAndGlyphs">Tunisia</text>
<rect x="543.3" y="627.66" width="46.2" height="15.0" fill="#f18a70"/>
<rect x="606.0" y="627.66" width="46.2" height="15.0" fill="#ec5239"/>
<rect x="669.0" y="627.66" width="46.2" height="15.0" fill="#f18a70"/>
<rect x="731.8" y="627.66" width="46.2" height="15.0" fill="#ec5239"/>
<text x="421.7" y="658.7" font-size="14.0" fill="#1f262c" textLength="14.4" lengthAdjust="spacingAndGlyphs">61</text>
<text x="445.5" y="658.7" font-size="14.0" fill="#1f262c" textLength="53.7" lengthAdjust="spacingAndGlyphs">Sri Lanka</text>
<rect x="543.3" y="646.94" width="46.2" height="15.0" fill="#ec5239"/>
<rect x="606.0" y="646.94" width="46.2" height="15.0" fill="#f6a78f"/>
<rect x="669.0" y="646.94" width="46.2" height="15.0" fill="#ec5239"/>
<rect x="731.8" y="646.94" width="46.2" height="15.0" fill="#ec5239"/>
<text x="421.7" y="678.0" font-size="14.0" fill="#1f262c" textLength="14.4" lengthAdjust="spacingAndGlyphs">62</text>
<text x="445.5" y="678.0" font-size="14.0" fill="#1f262c" textLength="40.7" lengthAdjust="spacingAndGlyphs">Angola</text>
<rect x="543.3" y="666.22" width="46.2" height="15.0" fill="#d50a2c"/>
<rect x="606.0" y="666.22" width="46.2" height="15.0" fill="#ec5239"/>
<rect x="669.0" y="666.22" width="46.2" height="15.0" fill="#d50a2c"/>
<rect x="731.8" y="666.22" width="46.2" height="15.0" fill="#f18a70"/>
<text x="421.7" y="697.3" font-size="14.0" fill="#1f262c" textLength="14.4" lengthAdjust="spacingAndGlyphs">63</text>
<text x="445.5" y="697.3" font-size="14.0" fill="#1f262c" textLength="45.7" lengthAdjust="spacingAndGlyphs">Bahrain</text>
<rect x="543.3" y="685.51" width="46.2" height="15.0" fill="#d50a2c"/>
<rect x="606.0" y="685.51" width="46.2" height="15.0" fill="#d50a2c"/>
<rect x="669.0" y="685.51" width="46.2" height="15.0" fill="#f2cfa2"/>
<rect x="731.8" y="685.51" width="46.2" height="15.0" fill="#d50a2c"/>
<text x="421.7" y="716.6" font-size="14.0" fill="#1f262c" textLength="14.4" lengthAdjust="spacingAndGlyphs">64</text>
<text x="445.5" y="716.6" font-size="14.0" fill="#1f262c" textLength="44.7" lengthAdjust="spacingAndGlyphs">Zambia</text>
<rect x="543.3" y="704.79" width="46.2" height="15.0" fill="#d50a2c"/>
<rect x="606.0" y="704.79" width="46.2" height="15.0" fill="#ec5239"/>
<rect x="669.0" y="704.79" width="46.2" height="15.0" fill="#d50a2c"/>
<rect x="731.8" y="704.79" width="46.2" height="15.0" fill="#d50a2c"/>
<text x="421.7" y="735.9" font-size="14.0" fill="#1f262c" textLength="14.4" lengthAdjust="spacingAndGlyphs">65</text>
<text x="445.5" y="735.9" font-size="14.0" fill="#1f262c" textLength="51.7" lengthAdjust="spacingAndGlyphs">Lebanon</text>
<rect x="543.3" y="724.07" width="46.2" height="15.0" fill="#d50a2c"/>
<rect x="606.0" y="724.07" width="46.2" height="15.0" fill="#d50a2c"/>
<rect x="669.0" y="724.07" width="46.2" height="15.0" fill="#d50a2c"/>
<rect x="731.8" y="724.07" width="46.2" height="15.0" fill="#f18a70"/>
<text x="421.7" y="755.2" font-size="14.0" fill="#1f262c" textLength="14.4" lengthAdjust="spacingAndGlyphs">66</text>
<text x="445.5" y="755.2" font-size="14.0" fill="#1f262c" textLength="61.3" lengthAdjust="spacingAndGlyphs">Venezuela</text>
<rect x="543.3" y="743.36" width="46.2" height="15.0" fill="#d50a2c"/>
<rect x="606.0" y="743.36" width="46.2" height="15.0" fill="#d50a2c"/>
<rect x="669.0" y="743.36" width="46.2" height="15.0" fill="#d50a2c"/>
<rect x="731.8" y="743.36" width="46.2" height="15.0" fill="#d50a2c"/>
<text x="7.1" y="787.2" font-size="12.6" fill="#555555" textLength="309.4" lengthAdjust="spacingAndGlyphs">Sources: EIU; IMF; JPMorgan Chase; iShares; <tspan font-style="italic">The Economist</tspan>;</text>
<text x="7.1" y="803.2" font-size="12.6" fill="#555555" textLength="297.4" lengthAdjust="spacingAndGlyphs">central banks; Haver Analytics; World Bank; Finanzen.net</text>
<text x="363.1" y="787.2" font-size="12.6" fill="#555555" textLength="48.8" lengthAdjust="spacingAndGlyphs">*Forecast</text>
<text x="424.4" y="787.2" font-size="12.6" fill="#555555"><tspan font-size="9" dy="-3.5">†</tspan><tspan dy="3.5" textLength="287" lengthAdjust="spacingAndGlyphs">Yield on hard-currency bond or real yield on local bond</tspan></text>
<text x="728.9" y="787.2" font-size="12.6" fill="#555555"><tspan font-size="9" dy="-3.5">‡</tspan><tspan dy="3.5" textLength="43.5" lengthAdjust="spacingAndGlyphs">Foreign-</tspan></text>
<text x="324.3" y="803.2" font-size="12.6" fill="#555555" textLength="452.5" lengthAdjust="spacingAndGlyphs">exchange reserves, relative to 2020 foreign-debt payments and current-account deficit</text>
</svg>
</body></html>
